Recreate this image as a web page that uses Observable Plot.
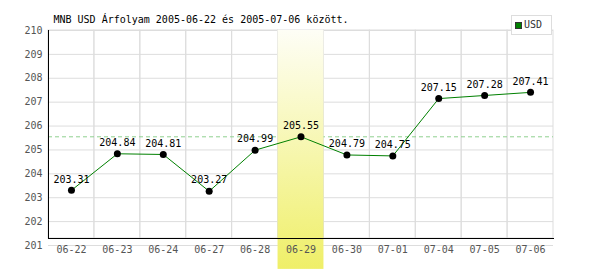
<!DOCTYPE html>
<html><head><meta charset="utf-8">
<script src="https://cdn.jsdelivr.net/npm/d3@7"></script>
<script src="https://cdn.jsdelivr.net/npm/@observablehq/plot@0.6"></script>
<style>
body{margin:0;background:#fff}
#wrap{position:relative;width:600px;height:270px}
#legend{position:absolute;left:511px;top:15px;width:39px;height:18px;border:1px solid #ddd;background:#fff;font:10px "DejaVu Sans Mono",monospace;color:#333}
#legend .sw{position:absolute;left:3px;top:6px;width:5px;height:5px;background:#008000;border:1px solid #333}
#legend .lb{position:absolute;left:12px;top:4px;line-height:10px}
</style></head>
<body><div id="wrap"></div>
<script>
const categories = ["06-22","06-23","06-24","06-27","06-28","06-29","06-30","07-01","07-04","07-05","07-06"];
const values = [203.31,204.84,204.81,203.27,204.99,205.55,204.79,204.75,207.15,207.28,207.41];
const yTicks = [201,202,203,204,205,206,207,208,209,210];
const highlight = "06-29";
const refValue = 205.55;
const title = "MNB USD Árfolyam 2005-06-22 és 2005-07-06 között.";
const seriesName = "USD";

const data = categories.map((c, i) => ({date: c, value: values[i]}));

const plot = Plot.plot({
  width: 600, height: 270,
  marginLeft: 48, marginRight: 47, marginTop: 30, marginBottom: 32,
  style: {fontFamily: "'DejaVu Sans Mono', monospace", fontSize: "10px", background: "white", overflow: "visible"},
  x: {type: "band", domain: categories, padding: 0, round: false, label: null},
  y: {domain: [201, 210], range: [245, 30], label: null},
  marks: [
    Plot.ruleY(yTicks, {stroke: "#ddd"}),
    Plot.cell(categories, {x: d => d, fill: "none", stroke: "#ddd"}),
    Plot.ruleY([refValue], {stroke: "#8fd08f", strokeDasharray: "4,3"}),
    Plot.barY([highlight], {x: d => d, y1: 210, y2: 200, fill: "url(#hlgrad)"}),
    Plot.line(data, {x: "date", y: "value", stroke: "#008000", strokeWidth: 1}),
    Plot.dot(data, {x: "date", y: "value", r: 3.5, fill: "black"}),
    Plot.text(data, {x: "date", y: "value", text: d => d.value.toFixed(2), dy: -11, fill: "black"}),
    Plot.axisY(yTicks, {tickSize: 0, tickPadding: 6, fill: "#555"}),
    Plot.axisX({tickSize: 0, tickPadding: 7, fill: "#555"}),
    Plot.frame({anchor: "left", stroke: "black"}),
    Plot.frame({anchor: "bottom", stroke: "black"}),
    Plot.text([title], {frameAnchor: "top-left", textAnchor: "start", lineAnchor: "bottom", dx: 5, dy: -7.5, fill: "black"})
  ]
});

d3.select(plot).insert("defs", ":first-child").html(
  '<linearGradient id="hlgrad" x1="0" y1="0" x2="0" y2="1">' +
  '<stop offset="0" stop-color="#fefef6"/><stop offset="1" stop-color="#efef68"/></linearGradient>');

const wrap = document.getElementById("wrap");
wrap.appendChild(plot);
const legend = document.createElement("div");
legend.id = "legend";
legend.innerHTML = '<div class="sw"></div><div class="lb"></div>';
legend.querySelector(".lb").textContent = seriesName;
wrap.appendChild(legend);
</script>
</body></html>
